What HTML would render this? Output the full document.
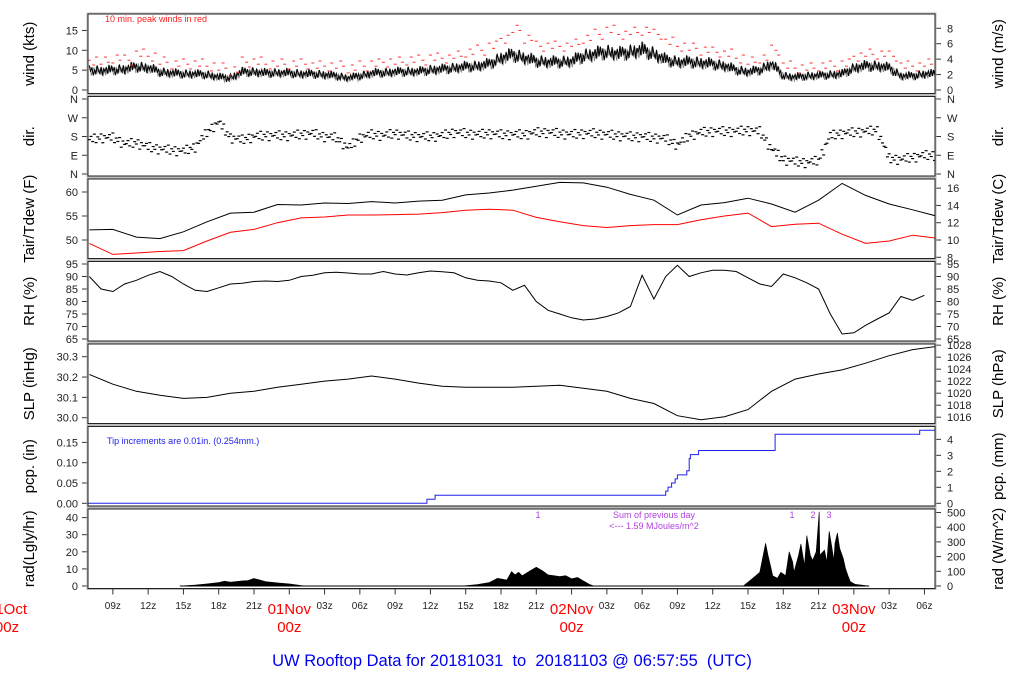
<!DOCTYPE html>
<html><head><meta charset="utf-8">
<style>
html,body{margin:0;padding:0;background:#fff;}
svg{display:block;font-family:"Liberation Sans",Arial,sans-serif;}
</style></head>
<body>
<svg id="chart" width="1024" height="700" viewBox="0 0 1024 700" xmlns="http://www.w3.org/2000/svg">
<text x="512" y="666" font-size="16.5" fill="#0000ee" text-anchor="middle" style="white-space:pre" xml:space="preserve">UW Rooftop Data for 20181031  to  20181103 @ 06:57:55  (UTC)</text>
</svg>
<script>
// ---------- data (hours since 31 Oct 00z) ----------
const hourlyStart = 7;
const windKts = [5,4.8,5,5.2,5.8,5.5,4.5,4.2,4,4, 3.8,3.2,3,4.5,4.5,4.2,4.3,4.2,4,4, 3.8,3.5,3,3.5,4.2,4.3,4.5,4.6,4.6,5, 5.2,5.5,5.8,6,6.5,8,8.8,8,7.2,7, 7,7.2,8.5,9,9.5,9,9.5,10,9,7.5, 7,7,6.8,6.5,6,5,4.5,5,6.5,3.5, 3.2,3.5,3.6,3.8,4,5.5,6,6,5.5,3.5, 3.5,4];
const gustKts = [7.5,7,8,7.5,9,8.5,7,6.5,6.5,6.5, 6,5.5,5,7,7,6.5,6.5,6.5,6.5,6, 6,6,5.5,6,6.5,7,7,7.5,7.5,8, 8,8.5,9.5,10,11,13,15,13,11,11, 11,11.5,13,14,15,14,14.5,15,14,12, 11,10.5,10,9.5,9,8,7,8,10,6, 5.5,5.5,6,6,6.5,8.5,9,9,8.5,6, 6,6.5];
const windDir = [165,175,175,145,150,130,120,115,110,130, 200,250,175,165,180,185,185,185,190,195, 180,175,125,175,190,185,195,185,180,180, 185,200,195,190,195,190,190,190,200,200, 195,190,195,195,190,185,180,180,175,170, 140,185,200,205,205,205,210,205,120,70, 60,55,65,185,195,200,205,210,75,70, 80,90];
const rhPct = [90,85,84,87,88.5,90.5,92,90,87,84.5, 84,85.5,87,87.3,88,88.2,88,88.5,90,90.5, 91.5,91.7,91.4,91,91,92,91,90.6,91.5,92.2, 91.9,91.5,89.5,88.5,88.2,87.5,84.5,86.5,80,76.5, 75,73.5,72.6,73,74,75.5,78,90.5,81,90, 94.5,90,91.5,92.5,92.5,92,89.5,87,86,91, 89.5,87.5,85,75,67,67.5,70.5,73,75.5,82, 80.5,82.5];
const twoHourStart = 7;
const tairF = [52.1,52.2,50.6,50.3,51.7,53.8,55.6,55.8,57.4,57.3,57.7,57.6,58,57.7,58.1,58.3,59.4,59.8,60.4,61.2,62,61.9,61,59.5,58.3,55.2,57.3,57.8,58.7,57.5,55.8,58.3,61.8,59.3,57.5,56.3,55];
const tdewF = [49.3,47,47.3,47.6,47.8,49.8,51.6,52.2,53.6,54.6,54.8,55.2,55.2,55.3,55.4,55.7,56.2,56.4,56.2,54.7,53.8,53,52.6,53,53.2,53.2,54.2,55,55.6,52.8,53.3,53.5,51.2,49.3,49.8,51,50.4];
const slpIn = [30.213,30.165,30.13,30.11,30.095,30.1,30.12,30.13,30.15,30.165,30.18,30.19,30.205,30.19,30.17,30.155,30.15,30.15,30.15,30.155,30.16,30.145,30.13,30.095,30.07,30.01,29.99,30.005,30.04,30.13,30.19,30.215,30.235,30.268,30.305,30.335,30.35];
const pcpTimes = [6.9,35.7,36.4,56.0,56.2,56.5,56.8,57.0,57.8,58.0,58.1,58.8,65.3,77.6];
const pcpTotals = [0,0.01,0.02,0.03,0.04,0.05,0.06,0.07,0.08,0.11,0.12,0.13,0.17,0.18];
const radTimes = [14.7,16,17,18,18.5,19,20,20.5,21,21.5,22,23,24,25,25.5,
 38.7,40,41,41.7,42.5,42.9,43.2,43.5,43.8,44.5,45,45.5,46,46.5,47,47.5,48,48.5,49,49.5,49.9,
 62.6,63.4,64,64.5,64.7,64.9,65.1,65.5,65.8,66.2,66.5,66.8,66.9,67.3,67.5,67.8,68,68.3,68.5,68.8,69.05,69.1,69.5,69.7,69.9,70.1,70.3,70.4,70.6,70.8,71.1,71.3,71.5,71.7,72.1,73.3];
const radLy = [0,0.5,1.2,2,2.8,2.2,3,3.2,4.4,3.5,2.5,1.8,1.2,0.3,0,
 0,0.8,2,4.5,3.5,8.4,6.5,8,6,9,11,9,6.5,6,5.5,6,4.2,5,3,1,0,
 0,4.5,8,25,18,12,6,4.5,8,6,20,14,8,18,24.6,12,29.5,18,15,20,43.4,18,21,14,32,24,15,25,31,22,16,10,6,2.6,1,0];
const hourTicks = [9,12,15,18,21,27,30,33,36,39,42,45,51,54,57,60,63,66,69,75,78];
const hourTickLabels = ["09z","12z","15z","18z","21z","03z","06z","09z","12z","15z","18z","21z","03z","06z","09z","12z","15z","18z","21z","03z","06z"];
const dayTicks = [0,24,48,72];
const dayLabels = ["31Oct","01Nov","02Nov","03Nov"];

// ---------- scales ----------
const X = h => 7 + h*11.762;
const yWind = v => 90 - v*3.97;
const yDir = d => 174 - d*0.2083;
const yT = f => 240 - (f-50)*4.8;
const yRH = r => 264 + (95-r)*2.5;
const ySLP = p => 417.7 - (p-30)*203.3;
const yPcp = p => 503.3 - p*406;
const yRad = v => 586 - v*1.71;

const NS = "http://www.w3.org/2000/svg";
const svg = document.getElementById("chart");
function mk(tag, attrs, parent){ const e=document.createElementNS(NS,tag); for(const k in attrs) e.setAttribute(k,attrs[k]); (parent||svg).appendChild(e); return e; }
function txt(x,y,s,size,fill,anchor,parent){ const t=mk("text",{x:x,y:y,"font-size":size,fill:fill,"text-anchor":anchor||"start"},parent); t.textContent=s; return t; }

const L=88, R=935, W=R-L, PH=79.5;
const tops=[14,96.5,179,261.5,344,426.5,509];
const panelNames=["wind","direction","temperature","humidity","pressure","precip","radiation"];
const defs = mk("defs",{});
const groups=[];
tops.forEach((t,i)=>{
  const cp=mk("clipPath",{id:"cp"+i},defs);
  mk("rect",{x:L,y:t,width:W,height:PH},cp);
  const g=mk("g",{"clip-path":"url(#cp"+i+")"});
  
  
  groups.push(g);
});

function leftAxis(ticks, labels, yf, title, top){
  const g=mk("g",{});
  
  
  ticks.forEach((v,i)=>{ const y=yf(v); mk("line",{x1:82,x2:L,y1:y,y2:y,stroke:"#333","stroke-width":1},g); txt(78,y+4,labels[i],11,"#222","end",g); });
  const cy=top+PH/2;
  const t=txt(0,0,title,15,"#000","middle",g);
  t.setAttribute("transform","translate(34,"+cy+") rotate(-90)");
}
function rightAxis(ticks, labels, yf, title, top){
  const g=mk("g",{});
  
  
  ticks.forEach((v,i)=>{ const y=yf(v); mk("line",{x1:R,x2:R+6,y1:y,y2:y,stroke:"#333","stroke-width":1},g); txt(947,y+4,labels[i],11,"#222","start",g); });
  const cy=top+PH/2;
  const t=txt(0,0,title,15,"#000","middle",g);
  t.setAttribute("transform","translate(1003,"+cy+") rotate(-90)");
}

leftAxis([0,5,10,15],["0","5","10","15"],yWind,"wind (kts)",tops[0]);
rightAxis([0,2,4,6,8],["0","2","4","6","8"],v=>yWind(v*1.9438),"wind (m/s)",tops[0]);
leftAxis([0,90,180,270,360],["N","E","S","W","N"],yDir,"dir.",tops[1]);
rightAxis([0,90,180,270,360],["N","E","S","W","N"],yDir,"dir.",tops[1]);
leftAxis([50,55,60],["50","55","60"],yT,"Tair/Tdew (F)",tops[2]);
rightAxis([8,10,12,14,16],["8","10","12","14","16"],c=>yT(c*1.8+32),"Tair/Tdew (C)",tops[2]);
const rhT=[65,70,75,80,85,90,95];
leftAxis(rhT,rhT.map(String),yRH,"RH (%)",tops[3]);
rightAxis(rhT,rhT.map(String),yRH,"RH (%)",tops[3]);
leftAxis([30.0,30.1,30.2,30.3],["30.0","30.1","30.2","30.3"],ySLP,"SLP (inHg)",tops[4]);
const hpa=[1016,1018,1020,1022,1024,1026,1028];
rightAxis(hpa,hpa.map(String),p=>ySLP(p*0.02953),"SLP (hPa)",tops[4]);
leftAxis([0,0.05,0.1,0.15],["0.00","0.05","0.10","0.15"],yPcp,"pcp. (in)",tops[5]);
rightAxis([0,1,2,3,4],["0","1","2","3","4"],m=>yPcp(m/25.4),"pcp. (mm)",tops[5]);
leftAxis([0,10,20,30,40],["0","10","20","30","40"],yRad,"rad(Lgly/hr)",tops[6]);
const wm=[0,100,200,300,400,500];
rightAxis(wm,wm.map(String),w=>yRad(w/11.63),"rad (W/m^2)",tops[6]);

// ---------- series ----------
// Wind: irregular texture around hourly means (fixed, non-periodic-looking pattern)
const jit=[0.9,-0.3,0.6,-1,0.2,-0.7,1,0.1,-0.5,0.8,-0.9,0.4,-0.2,0.7,-0.6,1.1,-0.4];
let gp="", bp="", n=0;
for(let i=0;i<windKts.length;i++){
  const a=windKts[i], b=windKts[Math.min(i+1,windKts.length-1)];
  for(let k=0;k<9;k++){
    const f=k/9, h=hourlyStart+i+f, m=a+(b-a)*f, amp=0.6+0.14*m;
    bp+=(bp?"L":"M")+X(h).toFixed(1)+" "+yWind(m+jit[n%17]*amp).toFixed(1);
    gp+=(gp?"L":"M")+X(h+0.06).toFixed(1)+" "+yWind(m-jit[(n+5)%17]*amp).toFixed(1);
    n++;
  }
}
const wg=mk("path",{d:gp,fill:"none",stroke:"#888","stroke-width":1},groups[0]);


const wb=mk("path",{d:bp,fill:"none",stroke:"#000","stroke-width":1},groups[0]);


const gustOff=[0,-1.2,0.8,-0.5,1.3];
const gustX=[0,0.37,0.61];
let gn=0;
gustKts.forEach((g,i)=>{
  for(let k=0;k<3;k++){
    const x=X(hourlyStart+i+gustX[k]), y=yWind(g+gustOff[gn%5]);
    gn++;
    const d=mk("line",{x1:x-1.5,x2:x+1.5,y1:y,y2:y,stroke:"#ff3030","stroke-width":1},groups[0]);
    
    
  }
});
txt(105,22,"10 min. peak winds in red",9,"#ff2020","start");

// Direction: scattered dashes
const dOff=[0,14,-12,22,-20,6,-6,17,-25,9,-3];
let dn=0;
windDir.forEach((d,i)=>{
  const nd=windDir[Math.min(i+1,windDir.length-1)];
  for(let k=0;k<7;k++){
    const f=k/7, dd=d+(nd-d)*f+dOff[dn%11], x=X(hourlyStart+i+f), y=yDir(dd);
    dn++;
    const e=mk("line",{x1:x-1.5,x2:x+1.5,y1:y,y2:y,stroke:"#000","stroke-width":1.2},groups[1]);
    
    
  }
});

function line(arr,start,step,yf,color,g,name){
  const d=arr.map((v,i)=>(i?"L":"M")+X(start+i*step).toFixed(1)+" "+yf(v).toFixed(1)).join("");
  const p=mk("path",{d:d,fill:"none",stroke:color,"stroke-width":1},g);
  
  
}
line(tairF,twoHourStart,2,yT,"#000",groups[2],"tair-line");
line(tdewF,twoHourStart,2,yT,"#ff0000",groups[2],"tdew-line");
line(rhPct,hourlyStart,1,yRH,"#000",groups[3],"rh-line");
line(slpIn,twoHourStart,2,ySLP,"#000",groups[4],"slp-line");

// Precip step
let pd="";
pcpTimes.forEach((t,i)=>{
  const x=X(t), y=yPcp(pcpTotals[i]);
  if(i===0) pd="M"+x.toFixed(1)+" "+y.toFixed(1);
  else pd+="H"+x.toFixed(1)+"V"+y.toFixed(1);
});
pd+="H"+R;
const pp=mk("path",{d:pd,fill:"none",stroke:"#2020ee","stroke-width":1},groups[5]);


txt(107,444,"Tip increments are 0.01in. (0.254mm.)",9,"#2020ee","start");

// Radiation fill
let rd="M"+X(radTimes[0]).toFixed(1)+" "+yRad(0);
radTimes.forEach((t,i)=>{ rd+="L"+X(t).toFixed(1)+" "+yRad(radLy[i]).toFixed(1); });
rd+="Z";
const rp=mk("path",{d:rd,fill:"#000",stroke:"#000","stroke-width":0.6},groups[6]);


mk("line",{x1:X(radTimes[0]),x2:X(radTimes[radTimes.length-1]),y1:yRad(0),y2:yRad(0),stroke:"#000","stroke-width":1},groups[6]);
const mag="#b040e0";
txt(538,518,"1",9,mag,"middle");
txt(654,518,"Sum of previous day",9,mag,"middle");
txt(654,529,"<--- 1.59 MJoules/m^2",9,mag,"middle");
txt(792,518,"1",9,mag,"middle");
txt(813,518,"2",9,mag,"middle");
txt(829,518,"3",9,mag,"middle");

// panel frames
tops.forEach((t,i)=>{
  const r=mk("rect",{x:L,y:t,width:W,height:PH,fill:"none",stroke:"#222","stroke-width":1});
  
  
  mk("rect",{x:L-1,y:t-1,width:W+2,height:PH+2,fill:"none",stroke:"#aaa","stroke-width":0.8});
});

// x axis
const xa=mk("g",{});


const yb=tops[6]+PH;
hourTicks.forEach((h,i)=>{
  const x=X(h);
  mk("line",{x1:x,x2:x,y1:yb,y2:yb+6,stroke:"#333"},xa);
  txt(x,609,hourTickLabels[i],10,"#222","middle",xa);
});
dayTicks.forEach((h,i)=>{
  const x=X(h);
  if(x>L) mk("line",{x1:x,x2:x,y1:yb,y2:yb+6,stroke:"#333"},xa);
  txt(x,614,dayLabels[i],15,"#ff0000","middle",xa);
  txt(x,632,"00z",15,"#ff0000","middle",xa);
});
</script>
</body></html>
